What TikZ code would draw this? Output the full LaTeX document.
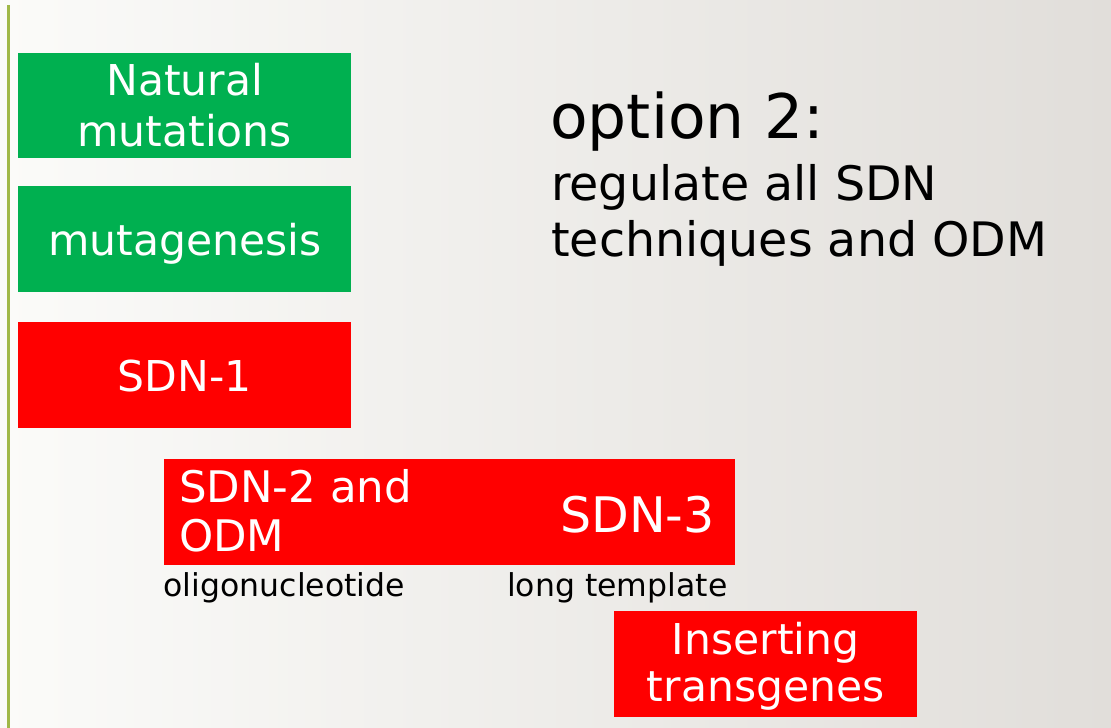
\documentclass[tikz,border=0pt]{standalone}
\usepackage{fontspec}
\setmainfont{DejaVu Sans}
\definecolor{bgL}{RGB}{251,251,249}
\definecolor{bgR}{RGB}{225,222,218}
\definecolor{boxgreen}{RGB}{0,176,80}
\definecolor{boxred}{RGB}{255,0,0}
\definecolor{rulecol}{RGB}{160,184,72}
\begin{document}
\begin{tikzpicture}[x=1pt,y=-1pt,
  box/.style={rectangle, inner sep=0pt, anchor=north west, text=white,
              minimum width=333pt, minimum height=105.5pt},
  bigfont/.style={font=\fontsize{42.5}{51}\selectfont},
  plain/.style={inner sep=0pt, text=black}
]
\useasboundingbox (0,0) rectangle (1111,728);
\shade[left color=bgL, right color=bgR] (0,0) rectangle (1111,728);
\draw[rulecol, line width=2.8pt] (8.3,5) -- (8.3,728);

% green boxes
\node[box, fill=boxgreen, bigfont, align=center, text height=83.4pt, text depth=0pt]
  (nat) at (18,52.3) {Natural\\mutations};
\node[box, fill=boxgreen, bigfont, text height=33pt, text depth=0pt]
  (mut) at (18,186) {mutagenesis};

% red boxes
\node[box, fill=boxred, bigfont, text height=33pt, text depth=0pt]
  (sdn1) at (18,322) {SDN-1};
\node[box, fill=boxred, minimum width=571pt, minimum height=106pt]
  (sdn23) at (164,459) {};
\node[plain, text=white, anchor=base west, align=left,
      font=\fontsize{43.5}{49.5}\selectfont]
  (sdn2) at (179,551.7) {SDN-2 and\\ODM};
\node[plain, text=white, anchor=base east, font=\fontsize{49}{55}\selectfont]
  (sdn3) at (715,532.3) {SDN-3};
\node[plain, anchor=base west, font=\fontsize{31.5}{36}\selectfont]
  (oligo) at (163.5,596.7) {oligonucleotide};
\node[plain, anchor=base west, font=\fontsize{31.5}{36}\selectfont]
  (longt) at (507,596.7) {long template};
\node[box, fill=boxred, minimum width=303pt, minimum height=105.7pt,
      font=\fontsize{42.5}{47}\selectfont, align=center, text height=75.8pt, text depth=0pt]
  (ins) at (614,611) {Inserting\\transgenes};

% title text
\node[plain, anchor=base west, font=\fontsize{61.5}{66}\selectfont]
  (opt) at (550,138) {option 2:};
\node[plain, anchor=base west, font=\fontsize{47.5}{52}\selectfont]
  (reg1) at (551,200) {regulate all SDN};
\node[plain, anchor=base west, font=\fontsize{47.5}{52}\selectfont]
  (reg2) at (551,256) {techniques and ODM};
\end{tikzpicture}
\end{document}
